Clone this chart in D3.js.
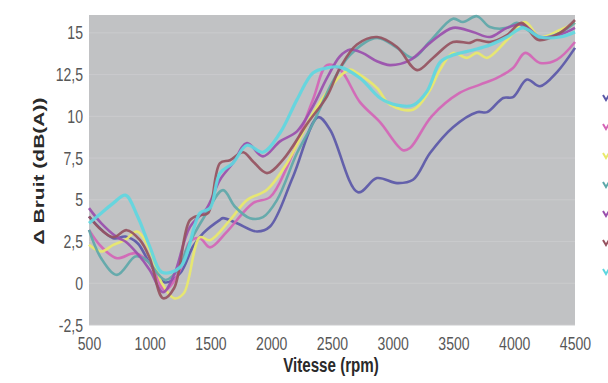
<!DOCTYPE html>
<html>
<head>
<meta charset="utf-8">
<script src="https://cdn.jsdelivr.net/npm/d3@7"></script>
<style>
  html, body { margin: 0; padding: 0; background: #fff; }
  svg { display: block; font-family: "Liberation Sans", Arial, sans-serif; }
</style>
</head>
<body>
<svg id="chart" width="608" height="383"></svg>
<script>
// valeurs : [vitesse (rpm), delta bruit dB(A)]
const serieBleu = [[500,4.0],[700,2.7],[800,2.8],[900,2.4],[1000,1.2],[1125,0.05],[1250,0.6],[1356,2.2],[1440,3.0],[1578,3.8],[1603,3.9],[1718,3.6],[1883,3.1],[1990,3.4],[2180,6.4],[2385,9.95],[2484,9.2],[2714,5.45],[2870,6.3],[3035,6.0],[3167,6.2],[3307,7.8],[3496,9.35],[3693,10.25],[3777,10.25],[3909,11.1],[3990,11.15],[4105,12.2],[4212,11.8],[4352,12.65],[4500,14.1]];
const serieRose = [[500,3.2],[600,2.2],[730,1.5],[880,1.8],[1000,1.2],[1125,-0.4],[1250,0.8],[1330,2.5],[1413,2.7],[1496,2.15],[1632,3.06],[1850,4.8],[1990,5.16],[2130,6.97],[2343,11.0],[2459,13.07],[2566,12.8],[2730,10.85],[2895,9.65],[3084,7.97],[3142,8.1],[3320,10.0],[3550,11.4],[3718,11.9],[3858,12.3],[3990,12.9],[4090,13.8],[4212,13.2],[4352,13.4],[4500,14.45]];
const serieJaune = [[500,2.3],[600,1.9],[700,2.3],[800,2.6],[895,3.1],[1000,2.0],[1100,0.0],[1200,-0.9],[1280,-0.6],[1413,2.76],[1496,2.58],[1660,3.78],[1800,4.98],[1965,5.6],[2130,7.2],[2345,10.2],[2566,12.4],[2650,12.8],[2705,12.6],[2870,11.7],[2977,10.7],[3167,10.4],[3300,11.5],[3390,12.8],[3496,13.8],[3611,13.5],[3693,13.8],[3776,13.5],[3940,14.57],[4088,15.65],[4212,14.75],[4376,15.17],[4500,15.6]];
const serieSarcelle = [[500,3.2],[600,1.5],[730,0.5],[880,1.6],[950,1.5],[1000,1.2],[1130,0.2],[1250,1.0],[1300,2.0],[1450,4.0],[1603,5.58],[1700,4.6],[1825,3.9],[1932,3.96],[2047,4.98],[2212,7.8],[2345,9.6],[2500,12.0],[2648,13.67],[2870,14.7],[3035,14.1],[3167,13.5],[3307,14.5],[3496,15.85],[3578,15.65],[3693,16.0],[3800,15.35],[3940,15.3],[4020,15.6],[4105,15.2],[4212,14.7],[4376,15.0],[4500,15.6]];
const serieViolet = [[500,4.5],[600,3.6],[730,2.76],[800,2.5],[895,1.8],[1000,0.8],[1110,-0.54],[1200,0.5],[1330,3.36],[1470,4.5],[1578,6.2],[1685,7.2],[1800,8.4],[1932,7.6],[2072,8.5],[2212,9.1],[2343,10.6],[2459,12.3],[2566,13.6],[2650,14.0],[2750,13.8],[2870,13.3],[2977,13.07],[3142,13.37],[3307,14.4],[3496,15.3],[3660,15.05],[3800,14.75],[3940,15.3],[4072,15.5],[4212,14.75],[4376,14.9],[4500,15.3]];
const serieBrun = [[500,4.0],[600,3.2],[700,2.76],[810,3.18],[920,2.58],[1000,1.5],[1110,-0.9],[1200,-0.3],[1330,3.78],[1413,4.08],[1480,4.2],[1578,7.2],[1660,7.37],[1768,7.85],[1850,7.3],[1965,6.6],[2097,7.4],[2300,9.6],[2459,11.2],[2566,12.9],[2705,14.3],[2870,14.75],[3035,14.15],[3200,12.77],[3331,13.5],[3496,14.45],[3636,14.4],[3693,14.57],[3800,14.45],[3940,14.87],[4060,15.6],[4200,14.57],[4376,15.0],[4500,15.77]];
const serieCyan = [[500,3.6],[600,4.2],[700,4.8],[800,5.28],[900,4.0],[1000,2.2],[1100,0.66],[1250,0.96],[1413,4.2],[1496,4.5],[1578,6.6],[1685,7.2],[1800,8.27],[1932,7.85],[2072,9.0],[2212,11.0],[2343,12.6],[2459,12.9],[2566,12.95],[2730,12.3],[2895,11.1],[3035,10.67],[3167,10.67],[3282,11.5],[3390,13.25],[3496,13.67],[3660,13.97],[3800,14.27],[3940,14.75],[4072,15.3],[4212,14.75],[4376,14.75],[4500,15.05]];

const series = [serieBleu, serieRose, serieJaune, serieSarcelle, serieViolet, serieBrun, serieCyan];
const couleurs = ["#5b58a8", "#d465b6", "#e9e96a", "#5ea8a9", "#9a4fac", "#96525f", "#5fd7e0"];
const yTicks = [-2.5, 0, 2.5, 5, 7.5, 10, 12.5, 15];
const xTicks = [500, 1000, 1500, 2000, 2500, 3000, 3500, 4000, 4500];

const svg = d3.select("#chart");
const mLeft = 89, mRight = 575, mTop = 15, mBottom = 325;
const sx = 0.74; // le texte de l'original est comprimé horizontalement

const x = d3.scaleLinear().domain([500, 4500]).range([mLeft, mRight]);
const y = d3.scaleLinear().domain([-2.5, 16.07]).range([mBottom, mTop]);

// fond gris de la zone de tracé
svg.append("rect")
  .attr("x", mLeft).attr("y", mTop)
  .attr("width", mRight - mLeft).attr("height", mBottom - mTop)
  .attr("fill", "#c1c2c4");

// lignes de grille
svg.append("g")
  .selectAll("line")
  .data(yTicks)
  .enter().append("line")
  .attr("x1", mLeft).attr("x2", mRight)
  .attr("y1", d => y(d)).attr("y2", d => y(d))
  .attr("stroke", "#cacbcd").attr("stroke-width", 1);

// axes
const gx = svg.append("g")
  .attr("transform", `translate(0,${mBottom})`)
  .call(d3.axisBottom(x).tickValues(xTicks).tickSize(0).tickFormat(d3.format("d")));
gx.select(".domain").remove();
gx.selectAll("text")
  .attr("y", 11.2)
  .attr("transform", `scale(${sx},1)`)
  .attr("font-size", 19)
  .attr("font-family", "Liberation Sans, Arial, sans-serif")
  .attr("fill", "#575757");

// virgule décimale et tiret simple comme sur l'original
const fmtY = d => String(d).replace(".", ",");
const gy = svg.append("g")
  .attr("transform", `translate(${mLeft},0)`)
  .call(d3.axisLeft(y).tickValues(yTicks).tickSize(0).tickFormat(fmtY));
gy.select(".domain").remove();
gy.selectAll("text")
  .attr("x", -6 / sx)
  .attr("transform", `scale(${sx},1)`)
  .attr("font-size", 19)
  .attr("font-family", "Liberation Sans, Arial, sans-serif")
  .attr("fill", "#575757");

// titres
svg.append("text")
  .attr("transform", `translate(331,372) scale(${sx},1)`)
  .attr("text-anchor", "middle")
  .attr("font-size", 20.5)
  .attr("font-weight", "bold")
  .attr("fill", "#2a2a2a")
  .text("Vitesse (rpm)");

svg.append("text")
  .attr("transform", `translate(44,171) scale(${sx},1) rotate(-90)`)
  .attr("text-anchor", "middle")
  .attr("font-size", 21)
  .attr("font-weight", "bold")
  .attr("fill", "#2a2a2a")
  .text("Δ Bruit (dB(A))");

// courbes
const line = d3.line()
  .x(d => x(d[0]))
  .y(d => y(d[1]))
  .curve(d3.curveCatmullRom.alpha(0.5));

svg.append("g")
  .selectAll("path")
  .data(series)
  .enter().append("path")
  .attr("d", line)
  .attr("fill", "none")
  .attr("stroke", (d, i) => couleurs[i])
  .attr("stroke-width", (d, i) => i == 6 ? 3.2 : 2.6)
  .attr("stroke-linejoin", "round")
  .attr("stroke-opacity", 0.92);

// légende (coupée au bord droit)
const legY = d3.scaleLinear().domain([0, 6]).range([98, 272]);
svg.append("g")
  .selectAll("path")
  .data(couleurs)
  .enter().append("path")
  .attr("d", (d, i) => `M603,${legY(i) - 3}L606,${legY(i) + 2}L609,${legY(i) - 3}`)
  .attr("fill", "none")
  .attr("stroke", d => d)
  .attr("stroke-width", 2);
</script>
</body>
</html>
